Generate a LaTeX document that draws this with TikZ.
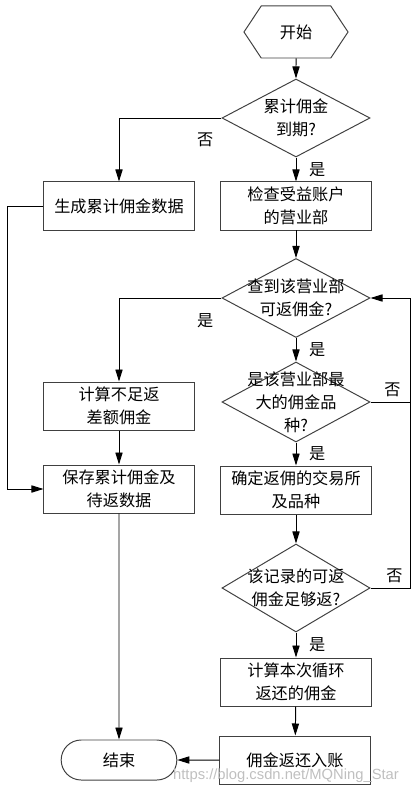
\documentclass[tikz,border=0pt]{standalone}
\usepackage{fontspec}
\setmainfont{Noto Sans CJK SC}
\newfontfamily\wmfont{Liberation Sans}
\usepackage{tikz}
\usetikzlibrary{positioning,arrows.meta,shapes.geometric,shapes.symbols,shapes.misc}

\begin{document}
\begin{tikzpicture}[x=0.025cm, y=-0.025cm, >={Triangle[length=3mm,width=1.8mm]},
  every node/.style={font=\fontsize{11.5pt}{16.5pt}\selectfont},
  box/.style={draw=black!75, line width=0.7pt, rectangle, minimum width=3.75cm, minimum height=1.2cm, align=center, inner sep=2pt},
  decision/.style={draw=black!75, line width=0.7pt, diamond, shape aspect=1.9, minimum width=3.7cm, inner sep=-0.35cm, align=center},
  flow/.style={->, line width=0.7pt},
  line/.style={line width=0.7pt}]
\useasboundingbox (0,0) rectangle (417,793);

\node[draw=black!75, line width=0.7pt, signal, signal to=east and west, signal pointer angle=113, minimum width=2.6cm, minimum height=1.3cm] (start) at (296,32) {开始};

\node[decision, minimum height=1.95cm] (d1) at (296,118) {累计佣金\\到期?};
\node[box] (b1) at (119,206) {生成累计佣金数据};
\node[box] (b2) at (296,206) {检查受益账户\\的营业部};

\node[decision, minimum height=1.975cm] (d2) at (296,298) {查到该营业部\\可返佣金?};
\node[box] (b3) at (119,406) {计算不足返\\差额佣金};
\node[box] (b4) at (119,489) {保存累计佣金及\\待返数据};

\node[decision, minimum height=2cm] (d3) at (296,402) {是该营业部最\\大的佣金品\\种?};
\node[box] (b5) at (296,490) {确定返佣的交易所\\及品种};
\node[decision, minimum height=2.2cm] (d4) at (296,588) {该记录的可返\\佣金足够返?};
\node[box] (b6) at (296,682) {计算本次循环\\返还的佣金};
\node[box] (b7) at (295,760) {佣金返还入账};

\node[draw=black!75, line width=0.7pt, rounded rectangle, minimum width=3.125cm, minimum height=1cm] (stop) at (119,760) {结束};

\draw[flow] (start) -- (d1);
\draw[flow] (d1.west) -| node[pos=0.08, below=2.5mm] {否} (b1);
\draw[flow] (d1) -- node[right=2mm] {是} (b2);
\draw[flow] (b1.west) -- ++(-36,0) |- (b4);
\draw[flow] (b2) -- (d2);

\draw[flow] (d2.west) -| node[pos=0.08, below=2.5mm] {是} (b3);
\draw[flow] (b3) -- (b4);
\draw[flow] (b4) -- (stop);

\draw[flow] (d2) -- node[right=2mm] {是} (d3);
\draw[line] (d3.east) -- node[pos=0.55, above] {否} ++(40,0);
\draw[flow] (d3) -- node[right=2mm] {是} (b5);
\draw[flow] (b5) -- (d4);
\draw[flow] (d4.east) -- node[pos=0.6, above] {否} ++(40,0) |- (d2.east);
\draw[flow] (d4) -- node[right=2mm] {是} (b6);
\draw[flow] (b6) -- (b7);
\draw[flow] (b7) -- (stop);

\node[font=\wmfont\fontsize{10.5pt}{12pt}\selectfont, text=black!25] (wm) at (286,776) {https://blog.csdn.net/MQNing\_Star};
\end{tikzpicture}
\end{document}
